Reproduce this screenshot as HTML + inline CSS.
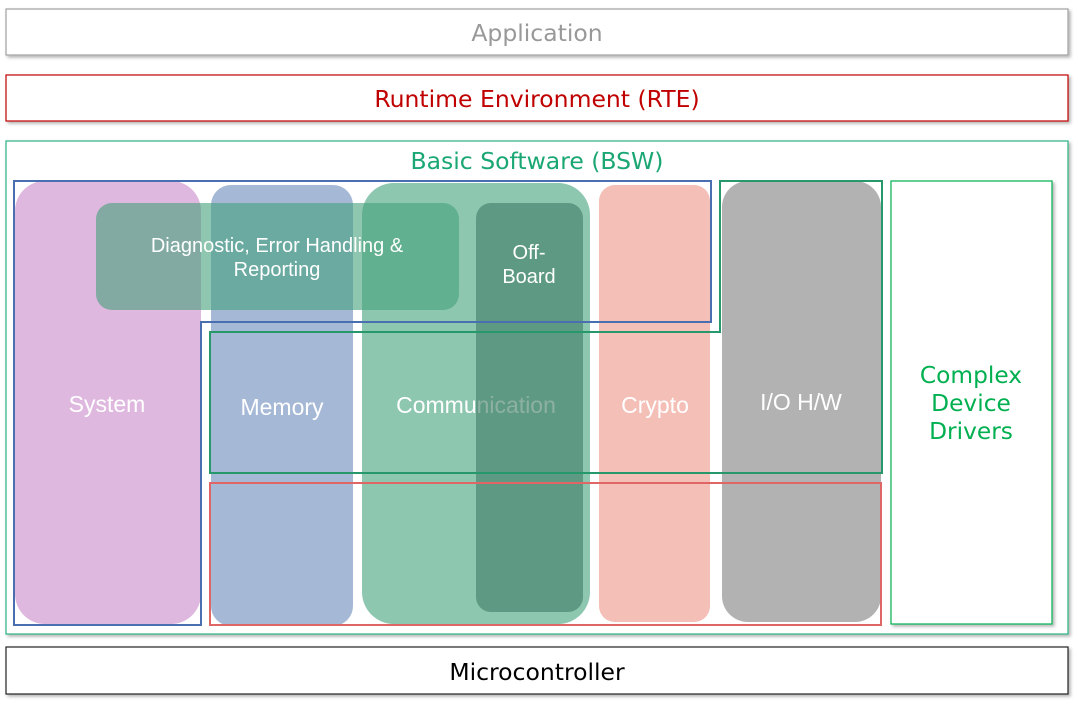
<!DOCTYPE html>
<html><head><meta charset="utf-8"><style>
html,body{margin:0;padding:0;background:#fff;width:1078px;height:704px;overflow:hidden}
</style></head><body>
<svg width="1078" height="704" xmlns="http://www.w3.org/2000/svg" font-family="Liberation Sans, Arial, sans-serif">
<defs><filter id="sh" x="-5%" y="-5%" width="110%" height="120%"><feDropShadow dx="2" dy="2" stdDeviation="1.5" flood-color="#000" flood-opacity="0.3"/></filter></defs>
<rect x="6" y="9" width="1062" height="46" fill="#fff" stroke="#a0a0a0" stroke-width="1.2" filter="url(#sh)"/>
<text x="537" y="41" text-anchor="middle" font-family="DejaVu Sans, sans-serif" font-size="23.5" fill="#999">Application</text>
<rect x="6" y="75" width="1062" height="46" fill="#fff" stroke="#c00000" stroke-width="1.2" filter="url(#sh)"/>
<text x="537" y="107" text-anchor="middle" font-family="DejaVu Sans, sans-serif" font-size="23.5" fill="#c00000">Runtime Environment (RTE)</text>
<rect x="6" y="141" width="1062" height="493" fill="#fff" stroke="#2ab07f" stroke-width="1.2" filter="url(#sh)"/>
<text x="537" y="169" text-anchor="middle" font-family="DejaVu Sans, sans-serif" font-size="23.5" fill="#1aa774">Basic Software (BSW)</text>
<rect x="6" y="647" width="1062" height="47" fill="#fff" stroke="#222" stroke-width="1.2" filter="url(#sh)"/>
<text x="537" y="680" text-anchor="middle" font-family="DejaVu Sans, sans-serif" font-size="23.5" fill="#000">Microcontroller</text>

<rect x="15" y="181" width="186" height="443" rx="30" fill="#dfb8df"/>
<rect x="211" y="185" width="142" height="441" rx="20" fill="#a5b8d6"/>
<rect x="362" y="183" width="228" height="441" rx="32" fill="#8dc7b0"/>
<rect x="599" y="185" width="111" height="437" rx="16" fill="#f4bfb7"/>
<rect x="722" y="181" width="159" height="441" rx="26" fill="#b2b2b2"/>
<rect x="96" y="203" width="363" height="107" rx="16" fill="#45a07b" fill-opacity="0.6"/>

<g fill="#fff" font-size="23" text-anchor="middle">
<text x="107" y="412">System</text>
<text x="282" y="415">Memory</text>
<text x="476" y="413">Communication</text>
<text x="655" y="413">Crypto</text>
<text x="801" y="410">I/O H/W</text>
</g>
<rect x="476" y="203" width="107" height="409" rx="15" fill="#407c65" fill-opacity="0.6"/>

<rect x="891" y="181" width="161" height="443" fill="#fff" stroke="#00b050" stroke-width="1.2" filter="url(#sh)"/>
<text text-anchor="middle" font-family="DejaVu Sans, sans-serif" font-size="23.3" fill="#00b050"><tspan x="971" y="383">Complex</tspan><tspan x="971" y="411">Device</tspan><tspan x="971" y="439">Drivers</tspan></text>

<polygon points="14,181 711,181 711,322 201,322 201,625 14,625" fill="none" stroke="#4a6fb0" stroke-width="2"/>
<polygon points="210,332 720,332 720,181 882,181 882,473 210,473" fill="none" stroke="#27986c" stroke-width="2"/>
<rect x="210" y="483" width="671" height="142" fill="none" stroke="#e06666" stroke-width="2"/>

<g fill="#fff" font-size="20" text-anchor="middle">
<text x="277" y="252">Diagnostic, Error Handling &amp;</text>
<text x="277" y="276">Reporting</text>
<text x="529" y="259">Off-</text>
<text x="529" y="283">Board</text>
</g>
</svg>
</body></html>
